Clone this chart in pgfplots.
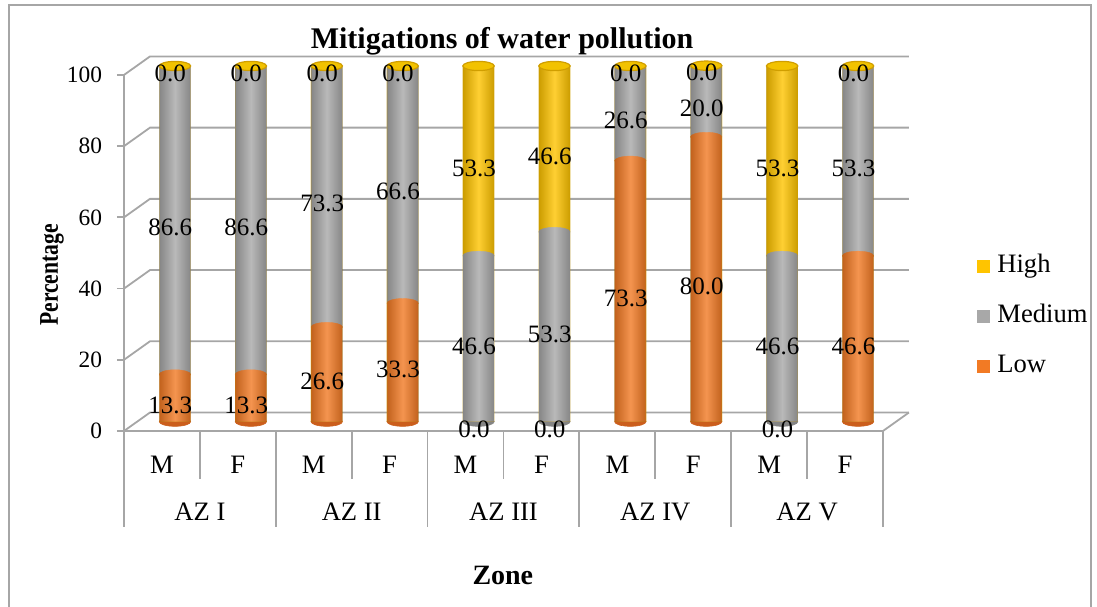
\documentclass[border=0pt]{standalone}
\usepackage{fontspec}
\setmainfont{Liberation Serif}
\usepackage{pgfplots}
\usepackage{pgfplotstable}
\pgfplotsset{compat=1.18}

% bar colours
\definecolor{lowC}{HTML}{F27A24}
\definecolor{lowE}{HTML}{CB5E1C}
\definecolor{medC}{HTML}{A8A8A8}
\definecolor{medE}{HTML}{848484}
\definecolor{highC}{HTML}{FFC400}
\definecolor{gridC}{HTML}{A6A6A6}
\definecolor{capE}{HTML}{D09E00}
\definecolor{capF}{HTML}{F2C200}

% elliptic end of a cylinder
\pgfdeclareplotmark{cylcap}{%
  \pgfpathellipse{\pgfpointorigin}{\pgfqpoint{7.85bp}{0pt}}{\pgfqpoint{0pt}{2.3bp}}%
  \pgfusepathqfillstroke}

\pgfplotstableread{
low  med  high
13.3 86.6 0.0
13.3 86.6 0.0
26.6 73.3 0.0
33.3 66.6 0.0
0.0  46.6 53.3
0.0  53.3 46.6
73.3 26.6 0.0
80.0 20.0 0.0
0.0  46.6 53.3
46.6 53.3 0.0
}\mitigation

\pgfplotsset{
  frame3d/.style={
    width=393bp, height=188bp, scale only axis,
    xmin=-0.5, xmax=9.856, ymin=0, ymax=105.6,
    clip=false, anchor=south west,
  },
  legsq/.style={legend image code/.code={\fill[#1] (0bp,-3.25bp) rectangle (6.5bp,3.25bp); \path (10bp,0);}},
}

\begin{document}
\begin{tikzpicture}
\useasboundingbox (0,0) rectangle (548.5bp,-303.5bp);
\draw[gridC, line width=1bp] (4.7bp,-304bp) -- (4.7bp,-2.5bp) -- (545.7bp,-2.5bp) -- (545.7bp,-304bp);

% walls, floor, ticks and category axis
\begin{axis}[frame3d, at={(62bp,-215.5bp)},
  axis x line*=bottom, axis y line*=left,
  axis line style={draw=none},
  ytick={0,20,...,100},
  tick align=outside, major tick length=3.5bp,
  ytick style={gridC, line width=0.9bp},
  xtick style={draw=none},
  /pgf/number format/assume math mode=true,
  yticklabel style={font=\fontsize{11.7bp}{14bp}\selectfont, xshift=-4bp},
  xtick={0,...,9},
  xticklabels={M,F,M,F,M,F,M,F,M,F},
  xticklabel style={font=\fontsize{13.3bp}{16bp}\selectfont, anchor=center, yshift=-13.5bp},
  extra x ticks={0.5,2.5,4.5,6.5,8.5},
  extra x tick labels={AZ I,AZ II,AZ III,AZ IV,AZ V},
  extra x tick style={major tick length=0pt, xticklabel style={yshift=-27bp}},
  title={Mitigations of water pollution},
  title style={font=\fontsize{15bp}{18bp}\selectfont\bfseries, at={(0.481,0.985)}, anchor=base},
  xlabel={Zone},
  xlabel style={font=\fontsize{14bp}{17bp}\selectfont\bfseries, at={(0.482,-0.383)}, anchor=center},
  ylabel={Percentage},
  ylabel style={font=\fontsize{13.5bp}{16bp}\selectfont\bfseries, at={(-0.0916,0.415)}, anchor=center, xscale=0.8},
]
\pgfplotsinvokeforeach{0,20,40,60,80,100}{
  \draw[gridC, line width=0.9bp] (axis cs:-0.5,#1) -- (axis cs:-0.1574,#1+5.2) -- (axis cs:9.8426,#1+5.2);
}
\draw[gridC, line width=0.9bp] (axis cs:-0.5,100) -- (axis cs:-0.5,0) -- (axis cs:9.5,0) -- (axis cs:9.8426,5.2);
\pgfplotsinvokeforeach{-0.5,1.5,3.5,5.5,7.5,9.5}{
  \draw[gridC, line width=0.9bp] (axis cs:#1,0) -- ([yshift=-48bp]axis cs:#1,0);
}
\pgfplotsinvokeforeach{0.5,2.5,4.5,6.5,8.5}{
  \draw[gridC, line width=0.9bp] (axis cs:#1,0) -- ([yshift=-24bp]axis cs:#1,0);
}
\end{axis}

% rounded bottoms of the cylinders
\begin{axis}[frame3d, at={(68.5bp,-210.85bp)}, hide axis]
\addplot[only marks, mark=cylcap, mark options={fill=lowE, draw=lowE, line width=0.3bp},
  restrict expr to domain={\thisrow{low}}{0.05:200}]
  table[x expr=\coordindex, y expr=0] {\mitigation};
\addplot[only marks, mark=cylcap, mark options={fill=medE, draw=medE, line width=0.3bp},
  restrict expr to domain={\thisrow{low}}{-1:0.05}]
  table[x expr=\coordindex, y expr=0] {\mitigation};
\end{axis}

% stacked cylinders
\begin{axis}[frame3d, at={(68.5bp,-210.85bp)}, hide axis,
  ybar stacked, bar width=0.413,
  reverse legend,
  legend style={draw=none, fill=none, inner sep=0pt, at={(1.0687,0.281)}, anchor=west,
    font=\fontsize{13.3bp}{16bp}\selectfont, row sep=13bp,
    nodes={inner sep=0pt, text height=9bp, text depth=3bp}},
  legend cell align=left,
]
\addplot[draw=none, fill=lowC, legsq=lowC] table[x expr=\coordindex, y=low] {\mitigation};
\addplot[draw=none, fill=medC, legsq=medC] table[x expr=\coordindex, y=med] {\mitigation};
\addplot[draw=none, fill=highC, legsq=highC] table[x expr=\coordindex, y=high] {\mitigation};
\legend{Low,Medium,High}
\end{axis}

% segment joints, cylinder shading, tops and value labels
\begin{axis}[frame3d, at={(68.5bp,-210.85bp)}, hide axis,
  nodes near coords align={center},
  every node near coord/.append style={font=\fontsize{12.5bp}{15bp}\selectfont, text=black,
    xshift=-2.3bp, yshift=-3.6bp,
    /pgf/number format/fixed, /pgf/number format/fixed zerofill,
    /pgf/number format/precision=1, /pgf/number format/assume math mode=true},
]
\addplot[only marks, mark=cylcap, mark options={fill=lowC, draw=lowC, line width=0.2bp},
  restrict expr to domain={\thisrow{low}}{0.05:200}]
  table[x expr=\coordindex, y=low] {\mitigation};
\addplot[only marks, mark=cylcap, mark options={fill=medC, draw=medC, line width=0.2bp},
  restrict expr to domain={\thisrow{high}}{0.05:200}]
  table[x expr=\coordindex, y expr=\thisrow{low}+\thisrow{med}] {\mitigation};
\addplot[scatter, only marks, mark=cylcap,
  mark options={fill=capF, draw=capE, line width=0.6bp},
  visualization depends on={rawy \as \tot},
  scatter/@pre marker code/.code={%
    \shade[left color=black, right color=black, middle color=white, opacity=0.2]
      (axis direction cs:-0.2065,0) rectangle (axis direction cs:0.2065,-\tot);
  },
  scatter/@post marker code/.code={},
] table[x expr=\coordindex, y expr=\thisrow{low}+\thisrow{med}+\thisrow{high}] {\mitigation};
\addplot[draw=none, no markers, nodes near coords, point meta=\thisrow{low}]
  table[x expr=\coordindex, y expr=\thisrow{low}/2] {\mitigation};
\addplot[draw=none, no markers, nodes near coords, point meta=\thisrow{med}]
  table[x expr=\coordindex, y expr=\thisrow{low}+\thisrow{med}/2] {\mitigation};
\addplot[draw=none, no markers, nodes near coords, point meta=\thisrow{high}]
  table[x expr=\coordindex, y expr=\thisrow{low}+\thisrow{med}+\thisrow{high}/2] {\mitigation};
\end{axis}
\end{tikzpicture}
\end{document}
